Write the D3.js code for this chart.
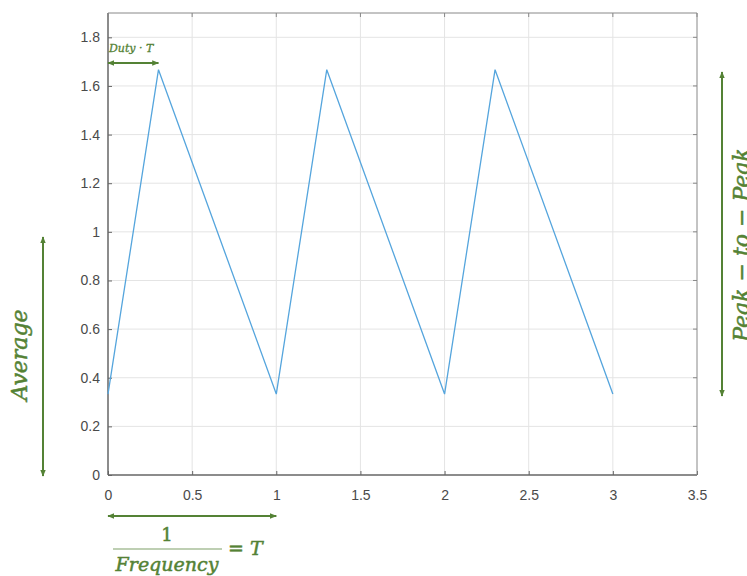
<!DOCTYPE html>
<html>
<head>
<meta charset="utf-8">
<script src="https://cdn.jsdelivr.net/npm/d3@7"></script>
<style>
  body { margin: 0; background: #fff; }
  svg { display: block; }
</style>
</head>
<body>
<div id="chart"></div>
<script>
// Data
const timeVals = [0, 0.3, 1, 1.3, 2, 2.3, 3];
const signalVals = [0.333, 1.667, 0.333, 1.667, 0.333, 1.667, 0.333];
const xTicks = [0, 0.5, 1, 1.5, 2, 2.5, 3, 3.5];
const yTicks = [0, 0.2, 0.4, 0.6, 0.8, 1, 1.2, 1.4, 1.6, 1.8];
const xTickLabels = ["0", "0.5", "1", "1.5", "2", "2.5", "3", "3.5"];
const yTickLabels = ["0", "0.2", "0.4", "0.6", "0.8", "1", "1.2", "1.4", "1.6", "1.8"];

// Configuration
const svgWidth = 747;
const svgHeight = 576;
const margin = { top: 13, right: 50, bottom: 101, left: 108 };
const green = "#548235";
const mathFont = "'DejaVu Serif', 'Liberation Serif', serif";

const svg = d3.select("#chart")
  .append("svg")
  .attr("width", svgWidth)
  .attr("height", svgHeight);

const x = d3.scaleLinear()
  .domain([0, 3.5])
  .range([margin.left, svgWidth - margin.right]);

const y = d3.scaleLinear()
  .domain([0, 1.9])
  .range([svgHeight - margin.bottom, margin.top]);

// arrow markers
const defs = svg.append("defs");
["start", "end"].forEach(k => {
  defs.append("marker")
    .attr("id", "arr-" + k)
    .attr("viewBox", "0 0 10 10")
    .attr("refX", k === "end" ? 9 : 1)
    .attr("refY", 5)
    .attr("markerWidth", 7)
    .attr("markerHeight", 7)
    .attr("markerUnits", "userSpaceOnUse")
    .attr("orient", "auto")
    .append("path")
    .attr("d", k === "end" ? "M0,1 L10,5 L0,9 Z" : "M10,1 L0,5 L10,9 Z")
    .attr("fill", green);
});

// gridlines
const grid = svg.append("g").attr("class", "grid");
grid.selectAll(".gx")
  .data(xTicks.slice(1, -1))
  .join("line")
  .attr("x1", d => x(d)).attr("x2", d => x(d))
  .attr("y1", y(0)).attr("y2", y(1.9))
  .attr("stroke", "#e4e4e4");
grid.selectAll(".gy")
  .data(yTicks.slice(1))
  .join("line")
  .attr("x1", x(0)).attr("x2", x(3.5))
  .attr("y1", d => y(d)).attr("y2", d => y(d))
  .attr("stroke", "#e4e4e4");

// axes
const xAxis = d3.axisBottom(x).tickValues(xTicks).tickSize(4).tickFormat((d, i) => xTickLabels[i]);
const yAxis = d3.axisLeft(y).tickValues(yTicks).tickSize(4).tickFormat((d, i) => yTickLabels[i]);

const xg = svg.append("g")
  .attr("transform", `translate(0, ${y(0)})`)
  .call(xAxis);
const yg = svg.append("g")
  .attr("transform", `translate(${x(0)}, 0)`)
  .call(yAxis);

// ticks point inward like matlab
xg.selectAll(".tick line").attr("y2", -4).attr("stroke", "#666");
yg.selectAll(".tick line").attr("x2", 4).attr("stroke", "#666");
xg.select(".domain").attr("d", `M${x(0)},0H${x(3.5)}`).attr("stroke", "#666").attr("stroke-width", 1.5);
yg.select(".domain").attr("d", `M0,${y(0)}V${y(1.9)}`).attr("stroke", "#666").attr("stroke-width", 1.5);

xg.selectAll("text")
  .attr("y", 15)
  .attr("fill", "#4a4a4a")
  .attr("font-family", "'Liberation Sans', Arial, sans-serif")
  .attr("font-size", "14px");
yg.selectAll("text")
  .attr("x", -8)
  .attr("fill", "#4a4a4a")
  .attr("font-family", "'Liberation Sans', Arial, sans-serif")
  .attr("font-size", "14px");

// top / right box with small ticks
const box = svg.append("g");
box.append("line")
  .attr("x1", x(0)).attr("x2", x(3.5)).attr("y1", y(1.9)).attr("y2", y(1.9))
  .attr("stroke", "#888");
box.append("line")
  .attr("x1", x(3.5)).attr("x2", x(3.5)).attr("y1", y(0)).attr("y2", y(1.9))
  .attr("stroke", "#888");
box.selectAll(".tt")
  .data(xTicks)
  .join("line")
  .attr("x1", d => x(d)).attr("x2", d => x(d))
  .attr("y1", y(1.9)).attr("y2", y(1.9) + 4)
  .attr("stroke", "#888");
box.selectAll(".rt")
  .data(yTicks)
  .join("line")
  .attr("x1", x(3.5)).attr("x2", x(3.5) - 4)
  .attr("y1", d => y(d)).attr("y2", d => y(d))
  .attr("stroke", "#888");

// the signal
const line = d3.line()
  .x((d, i) => x(timeVals[i]))
  .y(d => y(d));

svg.append("path")
  .datum(signalVals)
  .attr("d", line)
  .attr("fill", "none")
  .attr("stroke", "#55a5dd")
  .attr("stroke-width", 1.3);

// annotations
const ann = svg.append("g")
  .attr("fill", green)
  .attr("font-family", mathFont)
  .attr("font-style", "italic");

function arrow(x1, y1, x2, y2) {
  ann.append("line")
    .attr("x1", x1).attr("y1", y1).attr("x2", x2).attr("y2", y2)
    .attr("stroke", green)
    .attr("stroke-width", 2)
    .attr("marker-start", "url(#arr-start)")
    .attr("marker-end", "url(#arr-end)");
}

// slightly heavier than regular, lighter than bold
function label(sel) {
  return sel.attr("stroke", green).attr("stroke-width", 0.5);
}

// Duty * T
arrow(x(0), 63, x(0.3), 63);
label(ann.append("text"))
  .attr("x", x(0) + 1).attr("y", 52)
  .attr("font-size", "11px")
  .attr("stroke-width", 0.3)
  .text("Duty · T");

// Average
arrow(43, 237, 43, 476);
label(ann.append("text"))
  .attr("transform", "translate(27, 355) rotate(-90)")
  .attr("text-anchor", "middle")
  .attr("font-size", "22px")
  .text("Average");

// Peak-to-Peak
arrow(722, 72, 722, 396);
label(ann.append("text"))
  .attr("transform", "translate(749, 245) rotate(-90)")
  .attr("text-anchor", "middle")
  .attr("font-size", "22px")
  .text("Peak − to − Peak");

// 1/Frequency = T
arrow(x(0), 516, x(1), 516);
label(ann.append("text"))
  .attr("x", 167).attr("y", 541)
  .attr("text-anchor", "middle")
  .attr("font-style", "normal")
  .attr("font-size", "18px")
  .text("1");
ann.append("line")
  .attr("x1", 113).attr("x2", 222).attr("y1", 549).attr("y2", 549)
  .attr("stroke", green).attr("stroke-opacity", 0.5).attr("stroke-width", 1.5);
label(ann.append("text"))
  .attr("x", 167).attr("y", 571)
  .attr("text-anchor", "middle")
  .attr("font-size", "19px")
  .text("Frequency");
label(ann.append("text"))
  .attr("x", 228).attr("y", 555)
  .attr("font-size", "19px")
  .text("= T");
</script>
</body>
</html>
